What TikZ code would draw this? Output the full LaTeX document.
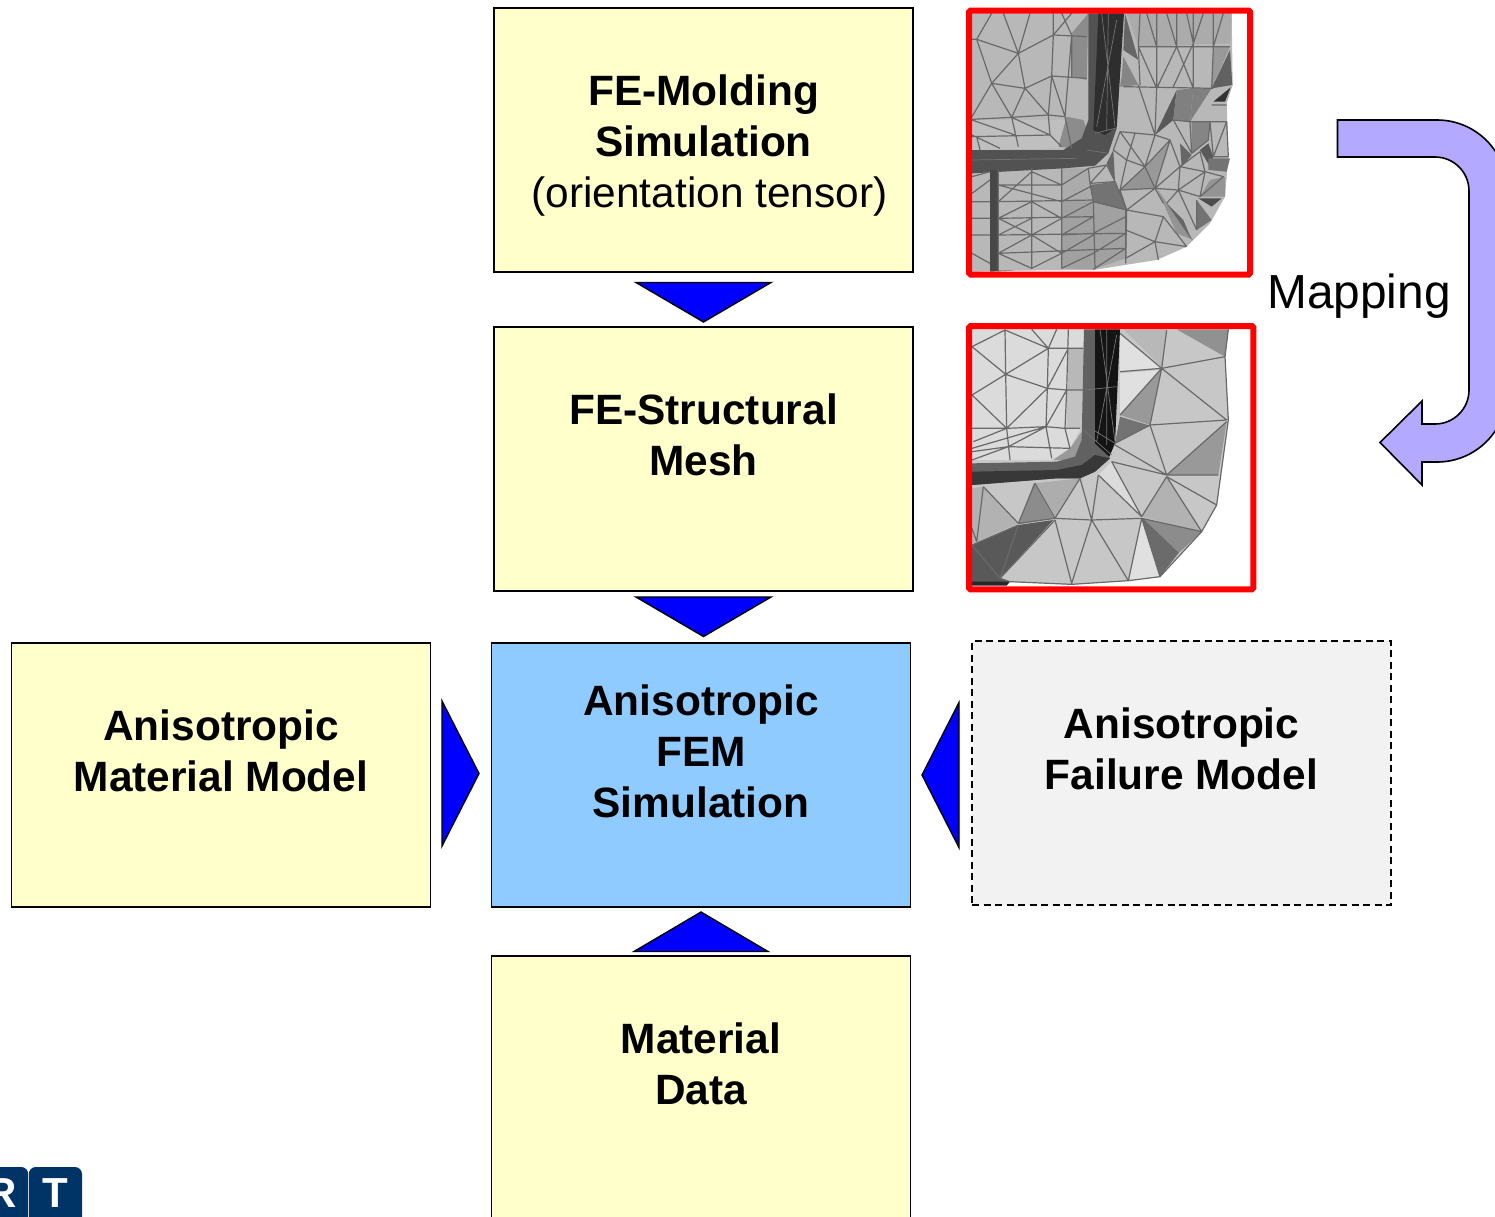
\documentclass[tikz,border=0pt]{standalone}
\usepackage{fontspec}
\setmainfont{Liberation Sans}
\definecolor{boxyellow}{RGB}{255,255,204}
\definecolor{boxblue}{RGB}{143,203,255}
\definecolor{boxgrey}{RGB}{242,242,242}
\definecolor{benda}{RGB}{179,170,255}
\definecolor{logoblue}{RGB}{0,51,102}
\definecolor{meshline}{RGB}{105,105,105}
\newcommand{\gy}[1]{black!#1}
\newcommand{\firstline}{\rule{0pt}{33pt}}
\tikzset{
  flowbox/.style={draw=black,line width=1.6pt,fill=boxyellow,outer sep=0pt,minimum width=419pt,minimum height=264pt,inner sep=0pt,align=center,anchor=north west,font=\fontsize{42.4}{51}\selectfont\bfseries},
  blockarrow/.style={draw=black,line width=1.4pt,fill=blue,line join=miter},
  redframe/.style={draw=red,line width=6pt,rounded corners=1.5pt},
  mesh/.style={draw=meshline,line width=1.2pt,line join=round},
  meshlight/.style={draw=black!55,line width=0.7pt},
}
\begin{document}
\begin{tikzpicture}[x=1pt,y=-1pt]
\useasboundingbox (0,0) rectangle (1495,1216);
\clip (0,0) rectangle (1495,1216);
\fill[white] (0,0) rectangle (1495,1216);

% boxes
\node[flowbox] (mold) at (494,8) {\rule{0pt}{41pt}FE-Molding\\Simulation\\\hspace*{12pt}\mdseries (orientation tensor)};
\node[flowbox] (struct) at (494,327) {\firstline FE-Structural\\Mesh\\~};
\node[flowbox] (matmodel) at (11.5,643) {\firstline Anisotropic\\Material Model\\~};
\node[flowbox,fill=boxblue] (fem) at (491.5,643) {\firstline Anisotropic\\FEM\\Simulation\\~};
\node[flowbox,fill=boxgrey,dashed,dash pattern=on 7pt off 4.5pt] (failure) at (972,641) {\firstline Anisotropic\\Failure Model\\~};
\node[flowbox] (matdata) at (491.5,956) {\firstline Material\\Data\\~};

% block arrows between the boxes
\draw[blockarrow] (636,282.5) -- (771,282.5) -- (703.5,322) -- cycle;
\draw[blockarrow] (636,597) -- (771,597) -- (703.5,636.5) -- cycle;
\draw[blockarrow] (442,701) -- (442,846) -- (479,773.5) -- cycle;
\draw[blockarrow] (959,702.5) -- (959,847.5) -- (922,775) -- cycle;
\draw[blockarrow] (634,951.5) -- (768,951.5) -- (701,912) -- cycle;

% mesh 1
\begin{scope}[shift={(960,0)},x=0.33333pt,y=-0.33333pt]
\fill[\gy{28}] (36,40) -- (815,40) -- (818,255) -- (800,310) -- (805,470) -- (795,590) -- (750,670) -- (680,740) -- (590,780) -- (400,810) -- (165,812) -- (36,815) -- cycle;
\fill[\gy{33}] (500,40) -- (815,40) -- (810,130) -- (535,140) -- cycle;
\fill[\gy{25}] (36,360) -- (320,360) -- (300,445) -- (36,450) -- cycle;
\fill[\gy{45}] (335,100) -- (385,40) -- (380,240) -- (335,230) -- cycle;
\fill[\gy{45}] (320,350) -- (370,360) -- (385,400) -- (335,445) -- (295,440) -- cycle;
\fill[\gy{60}] (495,40) -- (535,180) -- (490,150) -- cycle;
\fill[\gy{48}] (485,230) -- (490,170) -- (535,255) -- (480,260) -- cycle;
\fill[\gy{65}] (650,270) -- (585,405) -- (640,360) -- cycle;
\fill[\gy{50}] (650,270) -- (640,360) -- (690,365) -- (700,265) -- cycle;
\fill[\gy{50}] (700,265) -- (755,265) -- (690,365) -- cycle;
\fill[\gy{40}] (760,140) -- (810,140) -- (755,265) -- cycle;
\fill[\gy{62}] (810,150) -- (817,255) -- (755,265) -- cycle;
\fill[\gy{80}] (760,305) -- (812,262) -- (795,305) -- cycle;
\fill[\gy{48}] (750,365) -- (695,365) -- (695,460) -- (745,420) -- cycle;
\fill[\gy{65}] (720,450) -- (750,500) -- (760,470) -- (745,430) -- cycle;
\fill[\gy{60}] (660,430) -- (695,465) -- (665,500) -- cycle;
\fill[\gy{55}] (745,475) -- (810,475) -- (800,515) -- (745,510) -- cycle;
\fill[\gy{42}] (590,565) -- (700,720) -- (650,700) -- (610,610) -- cycle;
\fill[\gy{60}] (620,610) -- (670,660) -- (695,720) -- cycle;
\fill[\gy{55}] (710,600) -- (755,660) -- (710,690) -- cycle;
\fill[\gy{70}] (715,595) -- (785,595) -- (755,620) -- cycle;
\fill[\gy{42}] (750,540) -- (795,530) -- (795,590) -- (720,590) -- cycle;
\fill[\gy{40}] (585,565) -- (630,425) -- (555,500) -- cycle;
\fill[\gy{42}] (480,570) -- (585,565) -- (555,500) -- cycle;
\fill[\gy{33}] (305,505) -- (385,505) -- (400,600) -- (305,600) -- cycle;
\fill[\gy{37}] (305,600) -- (400,600) -- (497,630) -- (497,775) -- (400,808) -- (305,805) -- cycle;
\fill[\gy{55}] (390,555) -- (465,545) -- (500,630) -- (400,605) -- cycle;
\fill[\gy{60}] (440,490) -- (460,450) -- (465,545) -- cycle;
% dark bands
\fill[\gy{68}] (385,40) -- (415,40) -- (490,40) -- (470,385) -- (445,460) -- (405,497) -- (310,505) -- (36,520) -- (36,450) -- (310,450) -- (365,415) -- (385,360) -- cycle;
\fill[\gy{82}] (415,40) -- (492,40) -- (470,380) -- (435,405) -- (400,390) -- cycle;
\fill[\gy{72}] (90,510) -- (115,510) -- (115,812) -- (165,812) -- (90,815) -- cycle;
% mesh lines
\draw[mesh]
 (36,118) -- (50,118) -- (175,160) -- (210,40) (50,118) -- (95,40) (130,40) -- (175,160)
 (175,160) -- (280,105) -- (275,228) -- (195,265) -- (175,160) (50,118) -- (95,250) -- (175,160)
 (95,250) -- (36,350) (95,250) -- (155,352) (95,250) -- (195,265) -- (155,352) -- (265,345) -- (195,265)
 (275,228) -- (265,345) (275,228) -- (380,235) (280,105) -- (380,110) (280,40) -- (280,105) -- (335,40)
 (305,40) -- (335,105) -- (335,230) (315,350) -- (275,228) (315,350) -- (265,345) (315,350) -- (335,445)
 (335,105) -- (315,350)
 (36,358) -- (155,352) (36,360) -- (165,405) (36,410) -- (270,405) -- (265,345) (155,352) -- (175,440)
 (155,352) -- (270,405) (50,410) -- (60,450) (36,405) -- (120,445) (270,405) -- (305,440);
\draw[mesh]
 (535,140) -- (810,140) (490,260) -- (760,265) (540,40) -- (535,140) -- (540,255) (590,40) -- (590,140) -- (590,265)
 (650,40) -- (650,140) -- (700,265) (700,40) -- (700,140) -- (700,265) (760,40) -- (760,140) -- (755,265)
 (560,40) -- (590,140) (620,40) -- (650,140) -- (590,265) (680,40) -- (700,130) (730,40) -- (700,130) -- (640,260)
 (790,40) -- (760,140) (535,140) -- (590,265) (535,255) -- (585,405)
 (585,405) -- (590,265) (585,405) -- (480,395) -- (460,450) (585,405) -- (555,500) -- (480,395) (525,400) -- (500,480)
 (585,405) -- (630,420) -- (555,500) -- (500,480) -- (460,450) (500,480) -- (480,570) -- (555,500)
 (630,420) -- (585,565) -- (555,500) (630,420) -- (660,500) -- (585,565) (585,565) -- (480,570) -- (500,630) -- (585,565)
 (640,360) -- (690,365) -- (750,365) -- (800,365) (690,365) -- (695,460) -- (745,420) -- (750,365)
 (640,360) -- (695,460) (755,315) -- (800,315) (750,365) -- (760,470) -- (805,470) -- (800,365) -- (760,470)
 (660,500) -- (720,455) -- (735,515) -- (660,500) (735,515) -- (790,530) -- (720,590) -- (735,515)
 (655,570) -- (660,500) (655,570) -- (720,590) (585,565) -- (655,570) -- (710,690) (655,570) -- (735,515)
 (710,600) -- (710,690) (585,565) -- (610,610) (500,630) -- (610,650) -- (585,725) -- (497,690)
 (610,650) -- (680,740) (585,725) -- (680,740) (585,725) -- (595,780) (497,775) -- (585,725) (655,570) -- (620,610)
 (400,605) -- (500,630) -- (497,775) (465,545) -- (500,630);
\draw[mesh]
 (115,510) -- (115,810) (215,505) -- (215,805) (305,505) -- (305,805) (400,605) -- (405,808) (497,630) -- (497,790)
 (115,555) -- (305,555) (115,605) -- (400,600) (115,655) -- (400,650) (115,705) -- (497,700) (115,760) -- (497,745) (36,705) -- (90,705)
 (36,605) -- (90,605) (36,655) -- (90,655) (36,760) -- (90,790) (36,530) -- (90,515) (36,580) -- (90,540)
 (115,605) -- (215,515) -- (305,555) (115,555) -- (305,605) (115,655) -- (215,605) -- (305,655) (115,655) -- (215,705) -- (305,655)
 (115,705) -- (215,655) (115,760) -- (215,705) -- (305,760) (115,760) -- (215,805) -- (305,760) (305,555) -- (385,505)
 (305,605) -- (400,555) (305,655) -- (400,605) (305,705) -- (400,650) (305,705) -- (400,700) -- (497,650)
 (305,760) -- (400,705) (305,805) -- (400,760) -- (497,700) (400,808) -- (497,745)
 (385,505) -- (440,495) -- (465,545) -- (390,550) -- (385,505) (390,550) -- (440,495) (400,605) -- (390,550);
\draw[meshlight] (425,40) -- (465,380) (470,60) -- (410,380) (445,40) -- (440,390) (380,450) -- (445,460) (36,480) -- (350,475) (405,400) -- (465,385);
\draw[redframe] (27,31.5) rectangle (870,823.5);
\end{scope}

% mesh 2
\begin{scope}[shift={(960,315)},x=0.33333pt,y=-0.33333pt]
\fill[\gy{22}] (36,43) -- (805,43) -- (795,125) -- (805,315) -- (770,570) -- (725,650) -- (600,785) -- (505,797) -- (335,808) -- (150,800) -- (36,810) -- cycle;
\fill[\gy{14}] (36,43) -- (372,43) -- (360,345) -- (330,400) -- (275,435) -- (36,435) -- cycle;
\fill[\gy{28}] (325,100) -- (372,100) -- (372,225) -- (325,225) -- cycle;
\fill[\gy{24}] (320,225) -- (372,225) -- (360,340) -- (320,340) -- cycle;
\fill[\gy{40}] (330,400) -- (365,350) -- (385,390) -- (340,435) -- (280,435) -- cycle;
\fill[\gy{28}] (490,43) -- (620,43) -- (605,155) -- cycle;
\fill[\gy{12}] (480,55) -- (605,160) -- (480,170) -- cycle;
\fill[\gy{12}] (480,175) -- (600,165) -- (480,295) -- cycle;
\fill[\gy{43}] (650,43) -- (805,43) -- (795,125) -- cycle;
\fill[\gy{40}] (605,160) -- (570,330) -- (480,300) -- cycle;
\fill[\gy{55}] (480,305) -- (570,332) -- (465,385) -- cycle;
\fill[\gy{40}] (800,320) -- (775,480) -- (620,480) -- cycle;
\fill[\gy{30}] (620,485) -- (545,605) -- (725,650) -- cycle;
\fill[\gy{45}] (545,610) -- (725,650) -- (655,715) -- cycle;
\fill[\gy{58}] (545,610) -- (655,715) -- (600,785) -- cycle;
\fill[\gy{12}] (505,797) -- (545,615) -- (600,785) -- cycle;
\fill[\gy{45}] (222,503) -- (282,610) -- (175,628) -- cycle;
\fill[\gy{32}] (225,505) -- (360,490) -- (285,610) -- cycle;
\fill[\gy{14}] (415,480) -- (455,440) -- (545,605) -- cycle;
\fill[\gy{30}] (36,520) -- (70,515) -- (50,680) -- (36,685) -- cycle;
\fill[\gy{30}] (70,515) -- (175,625) -- (50,680) -- cycle;
\fill[\gy{65}] (36,690) -- (175,630) -- (280,615) -- (120,790) -- (150,800) -- (36,810) -- cycle;
\fill[\gy{85}] (36,800) -- (120,800) -- (150,800) -- (140,812) -- (36,812) -- cycle;
% dark band
\fill[\gy{62}] (372,43) -- (405,43) -- (405,345) -- (450,430) -- (405,470) -- (360,490) -- (290,490) -- (36,510) -- (36,445) -- (290,440) -- (345,425) -- (365,375) -- cycle;
\fill[\gy{78}] (36,470) -- (290,465) -- (365,450) -- (405,420) -- (450,430) -- (405,470) -- (360,490) -- (290,490) -- (36,510) -- cycle;
\fill[\gy{92}] (405,43) -- (480,43) -- (465,385) -- (448,425) -- (405,385) -- cycle;
\draw[mesh]
 (36,95) -- (135,45) (135,45) -- (137,178) -- (140,340) -- (150,435) (36,95) -- (137,178) -- (36,240)
 (137,178) -- (265,100) -- (135,45) (265,100) -- (370,100) (265,100) -- (262,220) -- (258,335) -- (275,430)
 (137,178) -- (262,220) (36,240) -- (140,340) -- (262,220) -- (320,225) -- (372,225) (258,335) -- (315,340) -- (360,340)
 (40,380) -- (140,340) -- (258,335) (36,400) -- (258,335) (36,340) -- (140,340) (36,410) -- (145,395) -- (330,400)
 (262,220) -- (325,100) (325,43) -- (320,225) -- (315,340) -- (330,400) (290,43) -- (265,100) (258,335) -- (320,225) (215,43) -- (265,100)
 (145,395) -- (258,335) (36,435) -- (145,395);
\draw[mesh]
 (605,160) -- (795,125) (605,160) -- (620,45) (605,160) -- (800,315) (605,160) -- (570,330) -- (800,315)
 (570,330) -- (620,480) -- (800,320) (480,55) -- (605,160) -- (480,170) (480,300) -- (605,160) (465,385) -- (570,330)
 (465,390) -- (620,480) (455,440) -- (620,480) (620,480) -- (775,480) (620,485) -- (770,570) (620,485) -- (725,650)
 (620,485) -- (545,605) (545,610) -- (725,650) (545,610) -- (655,715) (545,610) -- (600,785) (545,610) -- (505,797)
 (455,440) -- (545,605) (415,480) -- (395,615) (415,480) -- (545,605) (360,490) -- (395,615) (395,615) -- (545,610)
 (395,615) -- (285,610) (360,490) -- (285,610) (225,505) -- (285,610) (225,505) -- (175,625) (175,625) -- (285,610)
 (70,515) -- (175,625) (70,515) -- (50,680) (36,690) -- (175,630) (175,630) -- (120,790) (285,615) -- (120,790)
 (285,615) -- (335,805) (395,615) -- (335,805) (395,615) -- (505,797) (36,690) -- (120,790) (50,680) -- (36,640)
 (120,790) -- (150,800) (805,43) -- (795,125) -- (805,315) -- (770,570) -- (725,650) -- (600,785) -- (505,797) -- (335,808) -- (150,800);
\draw[meshlight] (420,43) -- (465,380) (470,60) -- (410,380) (440,43) -- (440,390) (375,225) -- (470,215) (370,345) -- (455,420) (400,345) -- (465,385);
\draw[redframe] (27,33) rectangle (880,823);
\end{scope}

% mapping arrow
\draw[draw=black,line width=1.6pt,fill=benda,line join=miter]
  (1337.5,120) -- (1437,120) .. controls (1475.7,120) and (1507,151.3) .. (1507,190) -- (1507,392)
  .. controls (1507,430.7) and (1475.7,462) .. (1437,462) -- (1422,462) -- (1422,485) -- (1380,442.5) -- (1422,401) -- (1422,424) -- (1435,424)
  .. controls (1453.8,424) and (1469,408.8) .. (1469,390) -- (1469,191)
  .. controls (1469,172.2) and (1453.8,157) .. (1435,157) -- (1337.5,157) -- cycle;
\node[inner sep=0pt,anchor=base,font=\fontsize{47.8}{50}\selectfont] (maplabel) at (1359,308) {Mapping};

% logo
\fill[logoblue,rounded corners=7pt] (-40,1167) rectangle (28.2,1240);
\fill[logoblue,rounded corners=7pt] (28.8,1167) rectangle (82,1240);
\node[inner sep=0pt,anchor=base,text=white,font=\fontsize{42}{42}\selectfont\bfseries] (logor) at (1.5,1207) {R};
\node[inner sep=0pt,anchor=base,text=white,font=\fontsize{42}{42}\selectfont\bfseries] (logot) at (55,1207) {T};
\end{tikzpicture}
\end{document}
